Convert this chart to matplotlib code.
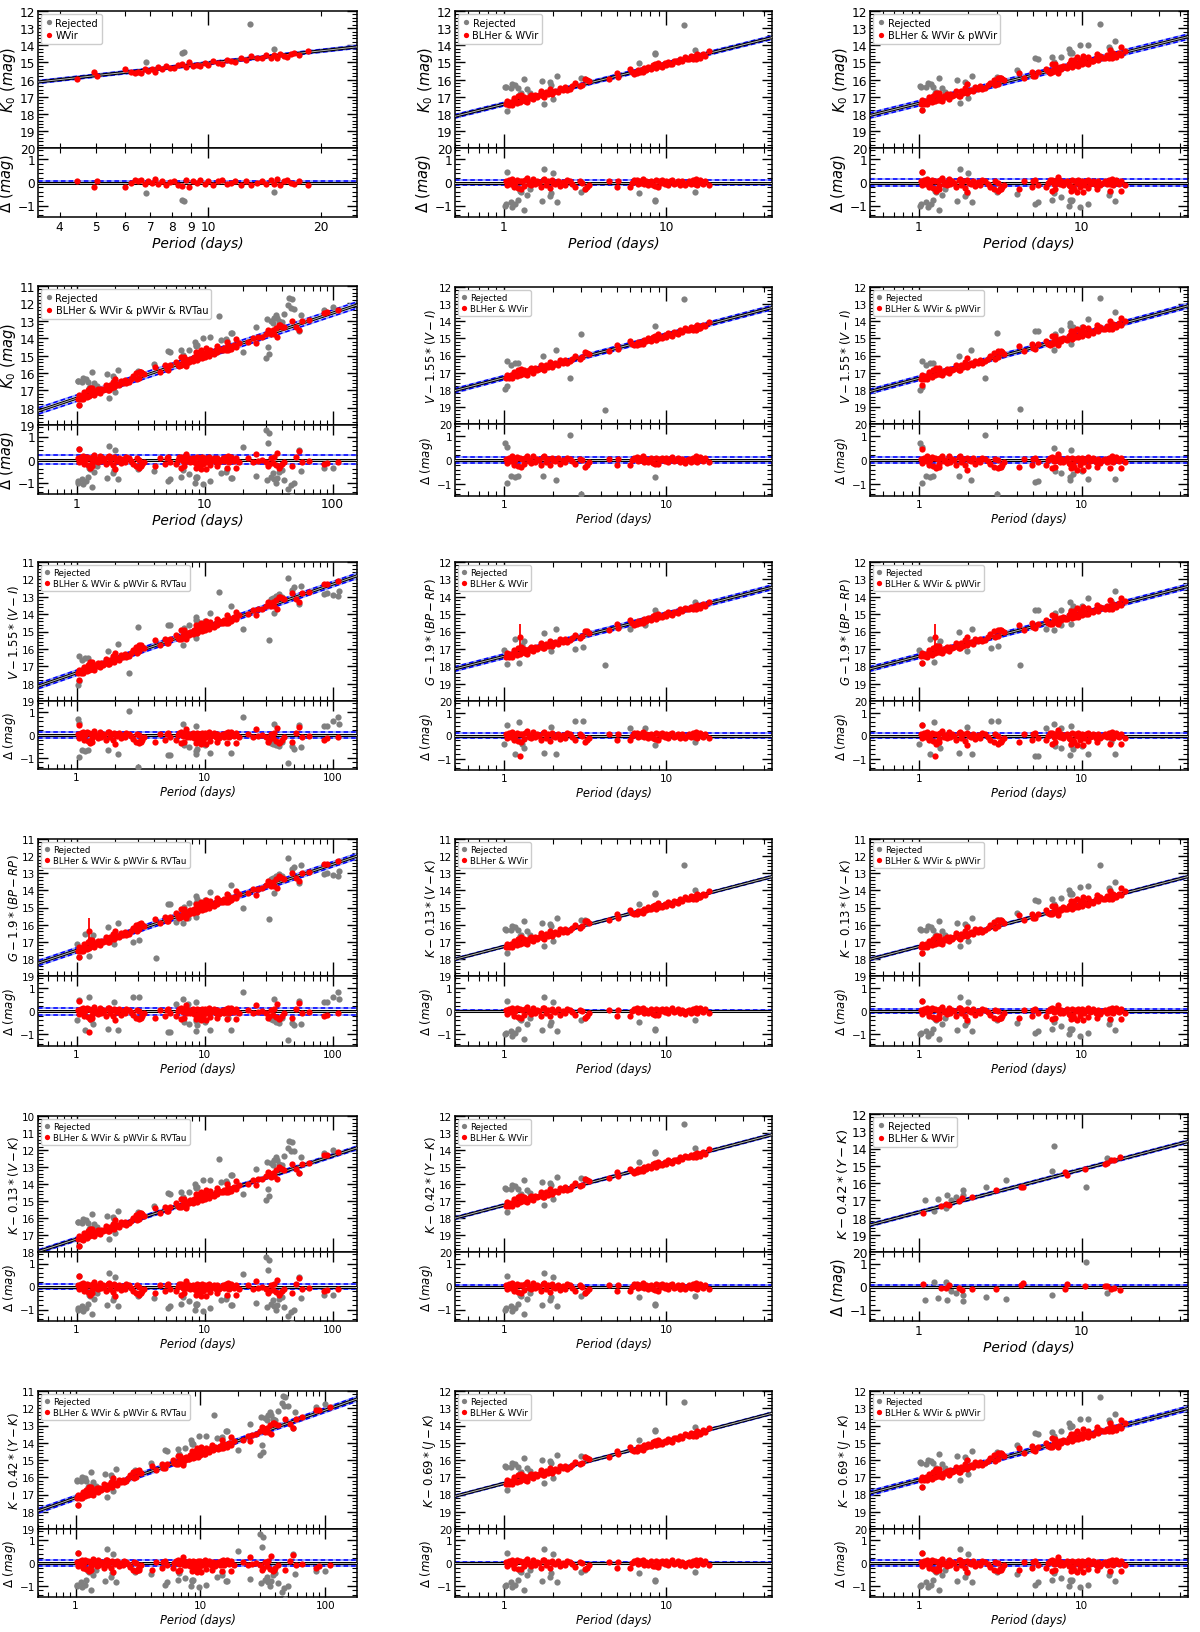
import numpy as np
import matplotlib
matplotlib.use('Agg')
import matplotlib.pyplot as plt
from matplotlib.ticker import (MultipleLocator, AutoMinorLocator, LogLocator, NullFormatter,
                               FixedLocator, FuncFormatter)
from matplotlib.lines import Line2D

# ---------------- data ----------------
# BL Her stars: period (d) and residual from the PL fit (mag)
red_bl_P = [1.03, 1.05, 1.08, 1.10, 1.12, 1.15, 1.17, 1.20, 1.22, 1.25, 1.27, 1.30, 1.33, 1.35, 1.38,
            1.42, 1.45, 1.48, 1.52, 1.55, 1.60, 1.65, 1.70, 1.75, 1.78, 1.82, 1.87, 1.92, 1.97, 2.02,
            2.08, 2.15, 2.22, 2.30, 2.38, 2.45, 2.55, 2.65, 2.75, 2.95, 3.05, 3.15, 3.25, 3.35]
red_bl_res = [0.05, -0.12, 0.10, -0.05, 0.15, -0.20, 0.00, 0.12, -0.25, 0.08, -0.28, 0.05, -0.15, 0.10, 0.18,
              -0.05, 0.02, -0.12, 0.15, -0.08, 0.05, 0.00, -0.20, 0.12, 0.15, -0.10, 0.05, -0.22, 0.10, 0.00,
              -0.05, 0.08, -0.15, 0.02, -0.10, 0.10, 0.05, -0.05, -0.18, 0.05, 0.00, -0.28, -0.20, -0.10]
# W Vir stars
red_wv_P = [4.45, 4.95, 5.05, 6.0, 6.2, 6.35, 6.5, 6.6, 6.75, 6.9, 7.05, 7.2, 7.35, 7.5, 7.7, 7.9,
            8.1, 8.3, 8.5, 8.7, 8.9, 9.1, 9.3, 9.5, 9.8, 10.0, 10.3, 10.6, 10.9, 11.2, 11.5, 11.8,
            12.2, 12.6, 13.0, 13.5, 13.9, 14.3, 14.7, 15.0, 15.3, 15.6, 15.9, 16.2, 16.6, 17.0, 17.5, 18.5]
red_wv_res = [0.05, -0.20, 0.05, -0.20, 0.00, 0.10, 0.05, 0.12, -0.05, 0.08, 0.00, 0.15, -0.08, 0.05, -0.10, 0.02,
              0.08, -0.12, -0.15, 0.10, -0.18, 0.05, 0.00, 0.10, -0.05, 0.08, -0.10, 0.05, 0.12, -0.05, 0.00, 0.08,
              -0.10, 0.05, -0.12, 0.00, 0.05, -0.08, 0.10, -0.05, 0.15, -0.10, 0.05, 0.12, 0.00, -0.05, 0.08, -0.10]
# peculiar W Vir stars
red_pw_P = [1.05, 1.28, 1.33, 1.98, 2.9, 3.05, 3.2, 4.1, 5.2, 5.4, 6.6, 6.9, 7.2, 8.6, 9.0, 9.4, 9.8,
            10.2, 11.0, 12.5, 15.0, 17.5]
red_pw_res = [0.45, -0.35, -0.30, -0.40, -0.30, -0.35, -0.30, -0.30, 0.10, -0.10, -0.35, -0.30, 0.25, -0.35,
              -0.30, -0.40, -0.20, -0.40, -0.25, -0.30, -0.35, -0.35]
# RV Tau stars
red_rv_P = [22, 24, 25, 26, 28, 30, 31, 32, 33, 34, 35, 36, 37, 38, 39, 40, 42, 48, 52, 55, 58, 65, 85, 90, 110]
red_rv_res = [0.05, -0.10, 0.25, -0.05, 0.00, -0.10, -0.30, -0.20, 0.05, -0.15, 0.10, -0.25, 0.30, -0.35,
              -0.30, -0.20, -0.10, -0.30, 0.10, 0.35, -0.10, -0.05, -0.20, -0.15, -0.10]

# rejected stars, near-infrared (K based) relations
rejK_bw_P = [1.02, 1.03, 1.05, 1.10, 1.13, 1.18, 1.22, 1.25, 1.28, 1.33, 1.38, 1.45, 1.72, 1.78, 1.93,
             1.96, 2.0, 2.12, 3.0, 3.15, 6.8, 8.5, 8.6, 12.9, 15.0]
rejK_bw_res = [-1.00, -0.95, 0.45, -0.85, -1.05, -0.95, -0.75, -0.35, -0.40, -1.20, -0.55, -0.30, -0.80, 0.60,
               -0.60, -0.45, 0.40, -0.85, -0.40, -0.30, -0.45, -0.75, -0.80, -2.00, -0.40]
rejK_pw_P = [4.0, 5.2, 5.4, 6.6, 7.5, 8.4, 8.7, 9.8, 11.0, 14.8, 16.0]
rejK_pw_res = [-0.50, -0.95, -0.85, -0.75, -0.65, -1.00, -0.75, -1.05, -0.95, -0.55, -0.80]
rejK_rv_P = [13.5, 16.5, 20, 25, 30, 30.5, 31, 32, 33, 34, 35, 36, 37, 38, 40, 42, 45, 46, 47, 48, 50,
             55, 57, 85, 100]
rejK_rv_res = [-0.60, -0.80, 0.55, -0.70, 1.30, -0.90, 0.70, 1.15, -0.75, -0.60, -0.85, -1.00, -0.80, -0.55,
               -0.45, -0.90, -1.30, -1.70, -1.10, -1.60, -1.00, 0.40, -0.50, -0.35, -0.35]

# rejected stars, V-I Wesenheit
rejV_bw_P = [1.02, 1.04, 1.05, 1.10, 1.17, 1.22, 1.75, 2.1, 2.55, 3.0, 4.2, 8.5, 12.9]
rejV_bw_res = [0.70, -0.95, 0.55, -0.65, -0.70, -0.65, -0.65, -0.85, 1.05, -1.40, 3.40, -0.70, -1.85]
rejV_pw_P = [5.2, 5.4, 6.8, 6.9, 7.5, 8.5, 8.6, 8.8, 10.0, 11.0, 16.0]
rejV_pw_res = [-0.90, -0.88, 0.50, -0.45, -0.55, -0.85, 0.40, -0.60, -0.45, -0.80, -0.80]
rejV_rv_P = [20, 32, 33, 34, 35, 36, 38, 40, 45, 48, 50, 55, 57, 85, 90, 100, 110, 112]
rejV_rv_res = [0.80, 1.95, -0.35, -0.40, 0.50, -0.45, -0.50, -0.30, -1.25, -0.50, -0.60, 0.45, -0.55,
               0.40, 0.40, 0.60, 0.80, 0.50]

# rejected stars, Gaia Wesenheit
rejG_bw_P = [1.00, 1.04, 1.17, 1.24, 1.30, 1.34, 1.76, 1.96, 2.11, 2.76, 3.08, 4.2, 6.03, 7.45, 8.59, 15.1]
rejG_bw_res = [-0.38, 0.46, -0.81, 0.58, -0.38, -0.55, -0.77, 0.39, -0.80, 0.61, 0.61, 2.00, 0.32, 0.32,
               -0.41, -0.29]
# Gaia star with a large error bar
errG_P = [1.25]
errG_res = [-0.88]
errG_err = [0.75]

# second K-0.42*(Y-K) sample
yk2_red_P = [1.06, 1.36, 1.46, 1.54, 1.76, 1.83, 2.11, 2.96, 4.21, 4.35, 7.87, 8.16, 10.5, 13.9, 14.4,
             15.1, 15.8, 17.1]
yk2_red_res = [0.11, -0.05, -0.05, 0.05, -0.05, -0.17, -0.10, -0.10, 0.07, 0.14, -0.10, 0.11, 0.04, 0.04,
               0.04, -0.10, -0.05, -0.14]
yk2_rej_P = [1.09, 1.24, 1.30, 1.47, 1.49, 1.57, 1.70, 1.86, 1.87, 2.57, 3.41, 6.54, 6.76, 10.6, 14.4]
yk2_rej_res = [-0.59, 0.18, -0.50, 0.18, -0.58, -0.20, -0.28, -0.62, -0.35, -0.46, -0.55, -0.39, -1.80,
               1.07, -0.27]

# PL / PW fits: zero point (mag at P=1 d), slope, dispersion
fit_zp = [17.45, 17.44, 17.39, 17.46, 17.30, 17.33, 17.38, 17.43, 17.42, 17.50, 17.28, 17.28,
          17.24, 17.25, 17.69, 17.19, 17.36, 17.16]
fit_slope = [-2.40, -2.35, -2.354, -2.45, -2.48, -2.56, -2.55, -2.405, -2.43, -2.51, -2.47, -2.47,
             -2.45, -2.51, -2.476, -2.54, -2.46, -2.51]
fit_sigma = [0.08, 0.10, 0.15, 0.18, 0.12, 0.13, 0.15, 0.13, 0.13, 0.15, 0.06, 0.07,
             0.10, 0.07, 0.08, 0.13, 0.06, 0.13]

ylabels = {
    'K': r'$K_0\ (mag)$',
    'VI': r'$V-1.55*(V-I)$',
    'G': r'$G-1.9*(BP-RP)$',
    'VK': r'$K-0.13*(V-K)$',
    'YK': r'$K-0.42*(Y-K)$',
    'JK': r'$K-0.69*(J-K)$',
}
sample_labels = {
    'W': 'WVir',
    'BW': 'BLHer & WVir',
    'BWp': 'BLHer & WVir & pWVir',
    'all': 'BLHer & WVir & pWVir & RVTau',
    'YK2': 'BLHer & WVir',
}
p1_minor_labels = [4, 5, 6, 7, 8, 9, 20]

# ---------------- layout ----------------
W, H = 1200, 1633
fig = plt.figure(figsize=(W / 100, H / 100), dpi=100)

colx = [(38, 357), (455, 772), (870, 1188)]
rowy = {
    (0, 0): (12, 149, 218), (0, 1): (12, 149, 218), (0, 2): (12, 149, 218),
    (1, 0): (287, 426, 495), (1, 1): (288, 425, 497), (1, 2): (288, 425, 497),
    (2, 0): (563, 702, 770), (2, 1): (563, 702, 771), (2, 2): (563, 702, 771),
    (3, 0): (840, 977, 1047), (3, 1): (840, 977, 1047), (3, 2): (840, 977, 1047),
    (4, 0): (1117, 1253, 1322), (4, 1): (1117, 1253, 1322), (4, 2): (1115, 1253, 1322),
    (5, 0): (1392, 1530, 1598), (5, 1): (1392, 1530, 1598), (5, 2): (1392, 1530, 1598),
}

panels = [
    # (row, col, band, sample, reject group, ymin(top), big)
    (0, 0, 'K', 'W', 'K', 12, True),
    (0, 1, 'K', 'BW', 'K', 12, True),
    (0, 2, 'K', 'BWp', 'K', 12, True),
    (1, 0, 'K', 'all', 'K', 11, True),
    (1, 1, 'VI', 'BW', 'V', 12, False),
    (1, 2, 'VI', 'BWp', 'V', 12, False),
    (2, 0, 'VI', 'all', 'V', 11, False),
    (2, 1, 'G', 'BW', 'G', 12, False),
    (2, 2, 'G', 'BWp', 'G', 12, False),
    (3, 0, 'G', 'all', 'G', 11, False),
    (3, 1, 'VK', 'BW', 'K', 11, False),
    (3, 2, 'VK', 'BWp', 'K', 11, False),
    (4, 0, 'VK', 'all', 'K', 10, False),
    (4, 1, 'YK', 'BW', 'K', 12, False),
    (4, 2, 'YK', 'YK2', 'K', 12, True),
    (5, 0, 'YK', 'all', 'K', 11, False),
    (5, 1, 'JK', 'BW', 'K', 12, False),
    (5, 2, 'JK', 'BWp', 'K', 12, False),
]


def gather(sample, group):
    if sample == 'YK2':
        return (list(yk2_red_P), list(yk2_red_res), list(yk2_rej_P), list(yk2_rej_res))
    rp, rr = [], []
    if sample == 'W':
        rp += red_wv_P; rr += red_wv_res
    else:
        rp += red_bl_P + red_wv_P; rr += red_bl_res + red_wv_res
    if sample in ('BWp', 'all'):
        rp += red_pw_P; rr += red_pw_res
    if sample == 'all':
        rp += red_rv_P; rr += red_rv_res
    if group == 'K':
        jp, jr = list(rejK_bw_P), list(rejK_bw_res)
        extra = [(rejK_pw_P, rejK_pw_res), (rejK_rv_P, rejK_rv_res)]
    elif group == 'V':
        jp, jr = list(rejV_bw_P), list(rejV_bw_res)
        extra = [(rejV_pw_P, rejV_pw_res), (rejV_rv_P, rejV_rv_res)]
    else:
        jp, jr = list(rejG_bw_P), list(rejG_bw_res)
        extra = [(rejV_pw_P, rejV_pw_res), (rejV_rv_P, rejV_rv_res)]
    if sample in ('BWp', 'all'):
        jp += extra[0][0]; jr += extra[0][1]
    if sample == 'all':
        jp += extra[1][0]; jr += extra[1][1]
    if sample == 'W':
        keep = [i for i, p in enumerate(jp) if p > 4]
        jp = [jp[i] for i in keep]; jr = [jr[i] for i in keep]
    return rp, rr, jp, jr


def style_axis(ax, fs):
    ax.tick_params(which='both', direction='in', top=True, right=True, labelsize=fs, pad=2)
    ax.tick_params(which='major', length=7, width=1.0)
    ax.tick_params(which='minor', length=3.5, width=0.8)
    for s in ax.spines.values():
        s.set_linewidth(1.1)


def draw_fit(ax, xg, yc, sig):
    ax.plot(xg, yc + sig, color='#9aa8ff', lw=1.4, zorder=2)
    ax.plot(xg, yc - sig, color='#9aa8ff', lw=1.4, zorder=2)
    ax.plot(xg, yc + sig, color='blue', lw=1.1, ls=(0, (3, 2)), zorder=2.1)
    ax.plot(xg, yc - sig, color='blue', lw=1.1, ls=(0, (3, 2)), zorder=2.1)
    ax.plot(xg, yc, color='black', lw=2.2, zorder=4)
    ax.plot(xg, yc, color='#b8b8b8', lw=0.7, zorder=4.1)


def minor_fmt(v, pos):
    for t in p1_minor_labels:
        if abs(v - t) < 1e-6 * t:
            return str(t)
    return ''


for k, (r, c, band, sample, group, ytop, big) in enumerate(panels):
    x0, x1 = colx[c]
    t, m, b = rowy[(r, c)]
    ax = fig.add_axes([x0 / W, 1 - m / H, (x1 - x0) / W, (m - t) / H])
    axr = fig.add_axes([x0 / W, 1 - b / H, (x1 - x0) / W, (b - m) / H], sharex=ax)

    fs_tick = 8.7 if big else 7.5
    fs_ylab = 10.5 if big else 8.5
    if sample == 'YK2':
        fs_ylab_main = 9.6
    else:
        fs_ylab_main = fs_ylab
    fs_xlab = 10 if big else 8.3
    fs_leg = 7 if big else 6.1
    ms = 4.5

    if sample == 'W':
        xlim = (3.5, 25)
    elif c == 0:
        xlim = (0.5, 180) if r == 5 else (0.5, 155)
    else:
        xlim = (0.5, 45)

    zp, sl, sg = fit_zp[k], fit_slope[k], fit_sigma[k]
    rp, rr, jp, jr = gather(sample, group)
    rp = np.array(rp); rr = np.array(rr); jp = np.array(jp); jr = np.array(jr)
    red_mag = zp + sl * np.log10(rp) + rr
    rej_mag = zp + sl * np.log10(jp) + jr

    xg = np.logspace(np.log10(xlim[0]) - 0.05, np.log10(xlim[1]) + 0.05, 200)
    yc = zp + sl * np.log10(xg)

    # main panel
    draw_fit(ax, xg, yc, sg)
    ax.plot(jp, rej_mag, 'o', color='#808080', ms=ms, mew=0, zorder=3)
    ax.errorbar(rp, red_mag, yerr=0.04, fmt='o', color='red', ms=ms, mew=0,
                elinewidth=0.8, capsize=0, zorder=5)
    if band == 'G':
        ep = np.array(errG_P)
        ax.errorbar(ep, zp + sl * np.log10(ep) + np.array(errG_res), yerr=errG_err, fmt='o',
                    color='red', ms=ms, mew=0, elinewidth=1.3, capsize=0, zorder=5)
    ax.set_xscale('log')
    ax.set_xlim(*xlim)
    ax.set_ylim(ytop + 8, ytop)
    ax.yaxis.set_major_locator(MultipleLocator(1))
    ax.yaxis.set_minor_locator(AutoMinorLocator(5))
    ax.set_ylabel(ylabels[band], fontsize=fs_ylab_main, labelpad=1)
    style_axis(ax, fs_tick)
    ax.tick_params(axis='x', which='major', length=10)
    plt.setp(ax.get_xticklabels(which='both'), visible=False)

    handles = [Line2D([], [], marker='o', ls='none', color='#808080', ms=3.8, mew=0),
               Line2D([], [], marker='o', ls='none', color='red', ms=3.8, mew=0)]
    ax.legend(handles, ['Rejected', sample_labels[sample]], loc='upper left', fontsize=fs_leg,
              handlelength=0.8, handletextpad=0.3, borderpad=0.35, labelspacing=0.25,
              borderaxespad=0.35, framealpha=1)

    # residual panel
    axr.axhline(sg, color='#9aa8ff', lw=1.4, zorder=2)
    axr.axhline(-sg, color='#9aa8ff', lw=1.4, zorder=2)
    axr.axhline(sg, color='blue', lw=1.1, ls=(0, (3, 2)), zorder=2.1)
    axr.axhline(-sg, color='blue', lw=1.1, ls=(0, (3, 2)), zorder=2.1)
    axr.axhline(0, color='black', lw=2.2, zorder=4)
    axr.axhline(0, color='#b8b8b8', lw=0.7, zorder=4.1)
    axr.plot(jp, jr, 'o', color='#808080', ms=ms, mew=0, zorder=3)
    axr.plot(rp, rr, 'o', color='red', ms=ms, mew=0, zorder=5)
    if band == 'G':
        axr.plot(errG_P, errG_res, 'o', color='red', ms=ms, mew=0, zorder=5)
    axr.set_ylim(-1.5, 1.5)
    axr.yaxis.set_major_locator(MultipleLocator(1))
    axr.yaxis.set_minor_locator(AutoMinorLocator(5))
    axr.set_ylabel(r'$\Delta\ (mag)$', fontsize=fs_ylab, labelpad=1)
    style_axis(axr, fs_tick)

    axr.xaxis.set_minor_locator(LogLocator(base=10, subs=np.arange(2, 10)))
    if sample == 'W':
        axr.xaxis.set_major_locator(FixedLocator([10]))
        axr.xaxis.set_major_formatter(FuncFormatter(lambda v, p: '10'))
        axr.xaxis.set_minor_formatter(FuncFormatter(minor_fmt))
        axr.tick_params(axis='x', which='minor', labelsize=fs_tick, pad=2)
    else:
        ticks = [1, 10, 100] if c == 0 else [1, 10]
        axr.xaxis.set_major_locator(FixedLocator(ticks))
        axr.xaxis.set_major_formatter(FuncFormatter(lambda v, p: '%d' % round(v)))
        axr.xaxis.set_minor_formatter(NullFormatter())
    axr.set_xlim(*xlim)
    axr.set_xlabel('Period (days)', fontsize=fs_xlab, style='italic', labelpad=2)

fig.savefig('out.png', dpi=100)
